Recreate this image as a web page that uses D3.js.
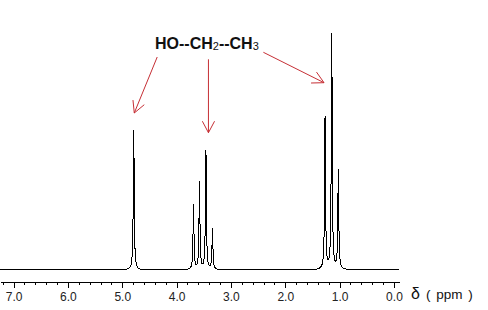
<!DOCTYPE html>
<html>
<head>
<meta charset="utf-8">
<script src="https://cdn.jsdelivr.net/npm/d3@7"></script>
<style>
  html, body { margin: 0; padding: 0; background: #fff; }
  #chart { width: 488px; height: 310px; }
</style>
</head>
<body>
<div id="chart"></div>
<script>
// 乙醇 1H NMR 谱图
const peakPpm    = [4.789, 3.689, 3.579, 3.461, 3.340, 1.268, 1.145, 1.024];
const peakHeight = [140,   65,    87,    119,   41,    152,   235,   99];
const tickValues = [7, 6, 5, 4, 3, 2, 1, 0];
const tickLabels = ["7.0", "6.0", "5.0", "4.0", "3.0", "2.0", "1.0", "0.0"];
const formulaParts = [["HO--CH", false], ["2", true], ["--CH", false], ["3", true]];
// 箭头: 起点和终点 (ppm, 强度)
const arrowFrom = [[4.357, 213], [3.414, 210.7], [2.403, 217.7]];
const arrowTo   = [[4.779, 157], [3.414, 137.3], [1.287, 187.3]];

function drawSpectrum() {
    const width = 488, height = 310;
    const svg = d3.select('#chart').append('svg')
        .attr('width', width)
        .attr('height', height)
        .attr('viewBox', [0, 0, width, height]);

    const x = d3.scaleLinear().domain([7.25, -0.1]).range([0, 399.4]);
    const y = d3.scaleLinear().domain([0, 240]).range([270, 30]);

    // 洛伦兹线型
    const gamma = 0.01;
    const samples = d3.range(7.25, -0.1, -0.001).map(p => {
        let v = 0;
        peakPpm.forEach((c, i) => {
            const d = p - c;
            v += peakHeight[i] * gamma * gamma / (d * d + gamma * gamma);
        });
        return [p, v];
    });

    svg.append('path')
        .datum(samples)
        .attr('fill', 'none')
        .attr('stroke', '#000')
        .attr('stroke-width', 1)
        .attr('shape-rendering', 'crispEdges')
        .attr('d', d3.line().x(d => x(d[0])).y(d => y(d[1])));

    // 坐标轴
    const axisY = 281.5;
    const minor = d3.range(0, 7.21, 0.2);
    svg.append('g')
        .attr('transform', `translate(0,${axisY})`)
        .attr('shape-rendering', 'crispEdges')
        .call(d3.axisBottom(x).tickValues(minor).tickSize(3).tickSizeOuter(0).tickFormat(''))
        .call(g => g.selectAll('line,path').attr('stroke', '#000'));

    const major = svg.append('g')
        .attr('transform', `translate(0,${axisY})`)
        .attr('shape-rendering', 'crispEdges')
        .call(d3.axisBottom(x).tickValues(tickValues).tickSize(6).tickSizeOuter(0)
            .tickFormat((d, i) => tickLabels[i]));
    major.select('.domain').remove();
    major.selectAll('line').attr('stroke', '#000');
    major.selectAll('text')
        .attr('y', 10.5)
        .attr('dy', '0.71em')
        .attr('fill', '#222')
        .style('font-family', '"Liberation Sans Narrow", "Liberation Sans", Arial, sans-serif')
        .style('font-size', '12px');

    // 轴标题
    const unit = svg.append('text')
        .attr('x', 411)
        .attr('y', 299)
        .attr('fill', '#111')
        .style('font-family', '"Liberation Sans", Arial, sans-serif');
    unit.append('tspan').style('font-size', '16px').text('δ');
    unit.append('tspan').attr('dx', 6).style('font-size', '13.5px').style('word-spacing', '2px').text('( ppm )');

    // 结构式
    const formula = svg.append('text')
        .attr('x', 155)
        .attr('y', 48.5)
        .attr('fill', '#111')
        .style('font-family', '"Liberation Sans", Arial, sans-serif')
        .style('font-weight', 'bold')
        .style('font-size', '16px');
    formulaParts.forEach(([t, sub]) => {
        formula.append('tspan')
            .attr('dy', sub ? 1.5 : -1.5)
            .style('font-size', sub ? '11px' : '16px')
            .style('font-weight', sub ? 'normal' : 'bold')
            .text(t);
    });
    formula.select('tspan').attr('dy', 0);

    // 红色箭头
    const red = '#c62f35';
    const arrows = svg.append('g')
        .attr('stroke', red)
        .attr('stroke-width', 1)
        .attr('fill', 'none');
    arrowFrom.forEach((f, i) => {
        const x0 = x(f[0]), y0 = y(f[1]);
        const x1 = x(arrowTo[i][0]), y1 = y(arrowTo[i][1]);
        arrows.append('line').attr('x1', x0).attr('y1', y0).attr('x2', x1).attr('y2', y1);
        const ang = Math.atan2(y0 - y1, x0 - x1);
        const len = 13, spread = 28 * Math.PI / 180;
        [-spread, spread].forEach(s => {
            arrows.append('line')
                .attr('x1', x1).attr('y1', y1)
                .attr('x2', x1 + len * Math.cos(ang + s))
                .attr('y2', y1 + len * Math.sin(ang + s));
        });
    });
}

drawSpectrum();
</script>
</body>
</html>
